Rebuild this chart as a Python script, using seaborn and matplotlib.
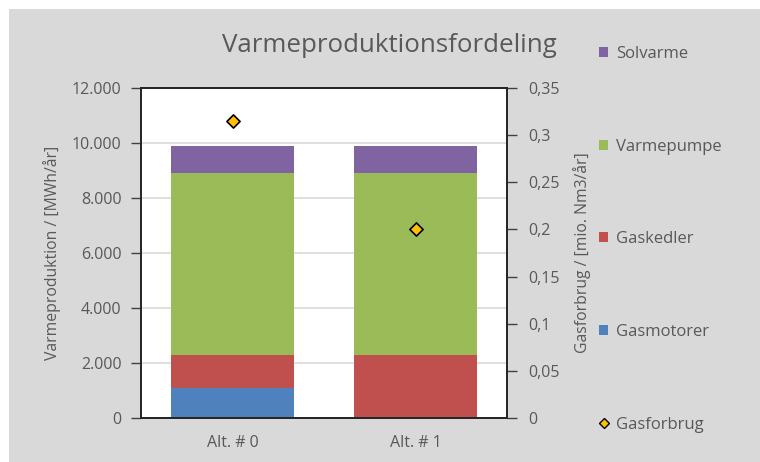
import matplotlib
matplotlib.use("Agg")
import matplotlib.pyplot as plt
from matplotlib.patches import Rectangle
from matplotlib.lines import Line2D
from matplotlib.ticker import FuncFormatter, MultipleLocator
import numpy as np
import pandas as pd
import seaborn as sns

# Data
alternativer = ["Alt. # 0", "Alt. # 1"]
gasmotorer = [1100, 0]
gaskedler = [1200, 2300]
varmepumpe = [6600, 6600]
solvarme = [1000, 1000]
gasforbrug = [0.315, 0.2]

serier = ["Gasmotorer", "Gaskedler", "Varmepumpe", "Solvarme"]
farver = {"Gasmotorer": "#4F81BD", "Gaskedler": "#C0504D",
          "Varmepumpe": "#9BBB59", "Solvarme": "#8064A2"}

sns.set_theme(style="white")
plt.rcParams["font.family"] = ["Open Sans", "DejaVu Sans"]
tekst = "#595959"

fig = plt.figure(figsize=(7.6, 4.62), dpi=100)
fig.patch.set_facecolor("white")
fig.patches.append(Rectangle((9 / 760, 0), 1, 1 - 9 / 462, transform=fig.transFigure,
                             facecolor="#D9D9D9", edgecolor="none", zorder=-10))

ax = fig.add_axes([141 / 760, 44 / 462, 366 / 760, 330 / 462])
ax.set_facecolor("white")

df = pd.DataFrame({"Alternativ": alternativer, "Gasmotorer": gasmotorer,
                   "Gaskedler": gaskedler, "Varmepumpe": varmepumpe,
                   "Solvarme": solvarme})
cum = df[serier].cumsum(axis=1)

# Stacked bars: draw cumulative totals from the top layer downwards
for s in reversed(serier):
    sns.barplot(x=df["Alternativ"], y=cum[s], color=farver[s], width=0.667,
                saturation=1, ax=ax, edgecolor="none", linewidth=0, zorder=2)

ax.set_xlim(-0.5, 1.5)
ax.set_ylim(0, 12000)
ax.yaxis.set_major_locator(MultipleLocator(2000))
ax.yaxis.set_major_formatter(FuncFormatter(lambda v, p: f"{int(v):,}".replace(",", ".")))
ax.grid(axis="y", color="#D9D9D9", linewidth=1.2, zorder=0)
ax.set_axisbelow(True)
ax.set_xlabel("")
ax.set_ylabel("Varmeproduktion / [MWh/år]", color=tekst, fontsize=11.3, labelpad=8)

ax.set_xticks([0, 1])
ax.set_xticklabels(alternativer)
ax.set_xticks([0.5], minor=True)
ax.tick_params(axis="x", which="major", length=0, colors=tekst, labelsize=11.5, pad=12)
ax.tick_params(axis="x", which="minor", length=4, width=1, color="#404040", direction="out")
ax.tick_params(axis="y", length=7, width=1, color="#404040", direction="out",
               labelcolor=tekst, labelsize=11.5, left=True, pad=7)

for sp in ax.spines.values():
    sp.set_color("#262626")
    sp.set_linewidth(1.3)
    sp.set_visible(True)

# Secondary axis: gas consumption
ax2 = ax.twinx()
sns.scatterplot(x=[0, 1], y=gasforbrug, marker="D", s=45, color="#FFC000",
                edgecolor="black", linewidth=1.2, ax=ax2, zorder=5)
ax2.set_ylim(0, 0.35)
ax2.yaxis.set_major_locator(MultipleLocator(0.05))
ax2.yaxis.set_major_formatter(FuncFormatter(
    lambda v, p: "0" if abs(v) < 1e-9 else f"{v:.2f}".rstrip("0").replace(".", ",")))
ax2.tick_params(axis="y", length=7, width=1, color="#404040", direction="out",
                labelcolor=tekst, labelsize=11.5, right=True, pad=8)
ax2.set_ylabel("Gasforbrug / [mio. Nm3/år]", color=tekst, fontsize=11.3, labelpad=10)
for sp in ax2.spines.values():
    sp.set_color("#262626")
    sp.set_linewidth(1.3)

fig.text(389 / 760, 1 - 45 / 462, "Varmeproduktionsfordeling", ha="center", va="center",
         fontsize=18.6, color=tekst)

handles = [Rectangle((0, 0), 1, 1, facecolor=farver[s], edgecolor="none")
           for s in reversed(serier)]
handles.append(Line2D([], [], marker="D", linestyle="none", markersize=5,
                      markerfacecolor="#FFC000", markeredgecolor="black",
                      markeredgewidth=1))
labels = list(reversed(serier)) + ["Gasforbrug"]
leg = fig.legend(handles, labels, loc="upper left", bbox_to_anchor=(584 / 760, 1 - 31 / 462),
                 frameon=False, fontsize=12, labelcolor=tekst, handlelength=0.55,
                 handleheight=0.55, handletextpad=0.45, labelspacing=4.6)

fig.savefig("out.png", dpi=100, facecolor=fig.get_facecolor())
